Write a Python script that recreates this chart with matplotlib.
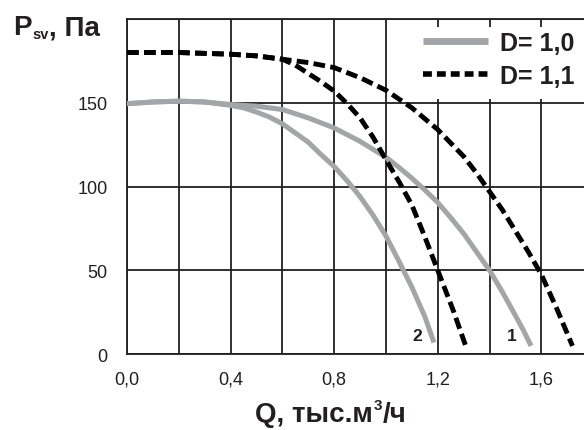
import matplotlib
matplotlib.use("Agg")
import matplotlib.pyplot as plt
from matplotlib.lines import Line2D
from matplotlib.patches import Rectangle

plt.rcParams['font.family'] = ['Liberation Sans', 'DejaVu Sans']

# ---- data ----
q_d10_1 = [0, 0.1, 0.2, 0.3, 0.4, 0.5, 0.6, 0.7, 0.8, 0.9, 1.0, 1.05, 1.1, 1.15, 1.2, 1.25, 1.3, 1.35,
           1.4, 1.45, 1.5, 1.53, 1.56]
p_d10_1 = [149.5, 150.5, 151, 150.5, 149, 148, 146, 141, 135, 127, 117.5, 111.5, 105, 98, 90.5, 81.5, 72, 61,
           50, 37, 23, 14.5, 5]

q_d10_2 = [0, 0.1, 0.2, 0.3, 0.4, 0.45, 0.5, 0.55, 0.6, 0.65, 0.7, 0.75, 0.8, 0.85, 0.9, 0.95,
           1.0, 1.05, 1.1, 1.15, 1.185]
p_d10_2 = [149.5, 150.5, 151, 150.5, 148.5, 147, 144.5, 141.5, 137.5, 132, 126.5, 119, 112, 103.5, 94, 83,
           70.5, 55.5, 40, 22.5, 7]

q_d11_1 = [0, 0.1, 0.2, 0.3, 0.4, 0.5, 0.6, 0.7, 0.8, 0.9, 1.0, 1.1, 1.2, 1.3, 1.35, 1.4, 1.45,
           1.5, 1.55, 1.6, 1.66, 1.72]
p_d11_1 = [180, 180, 180, 179.5, 179, 178, 176, 174, 171, 165, 157.5, 147, 134, 118, 108, 97, 86,
           73.5, 61, 47.5, 27, 5]

q_d11_2 = [0, 0.1, 0.2, 0.3, 0.4, 0.5, 0.6, 0.65, 0.7, 0.75, 0.8, 0.85, 0.9, 0.95, 1.0, 1.05,
           1.1, 1.15, 1.2, 1.26, 1.31]
p_d11_2 = [180, 180, 180, 179.5, 179, 178, 176, 172.5, 167.5, 162.5, 157, 149.5, 141, 129.5, 116, 103,
           89, 70, 50, 26, 4]

x_ticks = [0, 0.2, 0.4, 0.6, 0.8, 1.0, 1.2, 1.4, 1.6]
x_tick_labels = ["0,0", "", "0,4", "", "0,8", "", "1,2", "", "1,6"]
y_ticks = [0, 50, 100, 150, 200]
y_tick_labels = ["0", "50", "100", "150", ""]
legend_labels = ["D= 1,0", "D= 1,1"]
curve_labels = ["1", "2"]
curve_label_pos = [(1.485, 11.5), (1.122, 11.0)]

INK = '#231f20'
GRAY = '#a4a5a9'
W, H = 584, 431

fig = plt.figure(figsize=(W / 100, H / 100), dpi=100)
ax = fig.add_axes([127 / W, 1 - 355.3 / H, (W - 127) / W, (355.3 - 20) / H])
ax.set_xlim(0, (W - 127) / 259.0)
ax.set_ylim(0, 200)
ax.set_axisbelow(True)

ax.set_xticks(x_ticks)
ax.set_xticklabels(x_tick_labels)
ax.set_yticks(y_ticks)
ax.set_yticklabels(y_tick_labels)
ax.tick_params(length=0, labelsize=13, colors=INK)
ax.tick_params(axis='y', pad=14)
ax.tick_params(axis='x', pad=12)
ax.grid(True, color=INK, lw=1.3)
for s in ['left', 'bottom', 'top']:
    ax.spines[s].set_color(INK)
    ax.spines[s].set_linewidth(1.3)
ax.spines['right'].set_visible(False)

ax.plot(q_d10_1, p_d10_1, color=GRAY, lw=3.6, solid_capstyle='butt',
        solid_joinstyle='round', zorder=3)
ax.plot(q_d10_2, p_d10_2, color=GRAY, lw=3.6, solid_capstyle='butt',
        solid_joinstyle='round', zorder=3)
ax.plot(q_d11_1, p_d11_1, color='black', lw=3.5, dashes=(2.4, 1.1),
        dash_joinstyle='round', zorder=4)
ax.plot(q_d11_2, p_d11_2, color='black', lw=3.5, dashes=(2.4, 1.1),
        dash_joinstyle='round', zorder=4)

for lab, (qx, py) in zip(curve_labels, curve_label_pos):
    ax.text(qx, py, lab, fontsize=12.5, fontweight='bold', color=INK,
            ha='center', va='center', zorder=5)

# legend background
ax.add_patch(Rectangle((0.575, 0.761), 0.43, 0.215, transform=ax.transAxes,
                       facecolor='white', edgecolor='none', zorder=1))
handles = [Line2D([], [], color=GRAY, lw=5, solid_capstyle='butt'),
           Line2D([], [], color='black', lw=4, dashes=(1.6, 0.9))]
leg = ax.legend(handles, legend_labels, loc='upper left',
                bbox_to_anchor=((423 - 127) / 457, 1 - 12 / 335.3),
                frameon=False, prop={'weight': 'bold', 'size': 18},
                handlelength=2.6, handletextpad=0.48, labelspacing=0.35,
                borderpad=0, borderaxespad=0)
for t in leg.get_texts():
    t.set_color(INK)

# axis titles built from pieces (sub/superscripts)
fig.canvas.draw()
r = fig.canvas.get_renderer()

def ptext(x, y, s, **kw):
    return fig.text(x / W, 1 - y / H, s, va='baseline', ha='left', color=INK,
                    fontweight='bold', **kw)

def right_px(t):
    return t.get_window_extent(r).x1

t1 = ptext(13, 35, "P", fontsize=20)
t2 = ptext(right_px(t1) + 1, 39, "sv", fontsize=10.5)
t3 = ptext(right_px(t2) + 0, 35, ", Па", fontsize=20)

q1 = ptext(255, 422, "Q, тыс.м", fontsize=20)
q2 = ptext(right_px(q1) + 0.5, 410, "3", fontsize=11)
q3 = ptext(right_px(q2) + 0.5, 422, "/ч", fontsize=20)

fig.savefig("out.png", dpi=100)
